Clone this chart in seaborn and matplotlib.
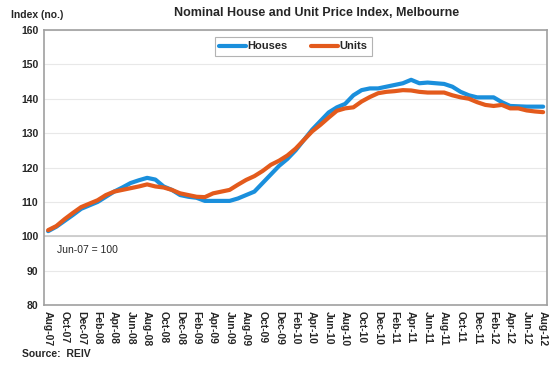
import pandas as pd
import numpy as np
import seaborn as sns
import matplotlib.pyplot as plt

# Monthly index values, Aug-07 to Aug-12 (Jun-07 = 100)
months = pd.date_range('2007-08-01', '2012-08-01', freq='MS').strftime('%b-%y').tolist()

houses = [101.5, 102.8, 104.5, 106.2, 108.0, 109.0, 110.0, 111.5, 113.0, 114.2,
          115.5, 116.3, 117.0, 116.5, 114.5, 113.5, 112.0, 111.5, 111.2, 110.3,
          110.3, 110.3, 110.3, 111.0, 112.0, 113.0, 115.5, 118.0, 120.5, 122.5,
          125.0, 128.0, 131.0, 133.5, 136.0, 137.5, 138.5, 141.0, 142.5, 143.0,
          143.0, 143.5, 144.0, 144.5, 145.5, 144.5, 144.7, 144.5, 144.3, 143.5,
          142.0, 141.0, 140.4, 140.4, 140.4, 139.0, 137.9, 137.8, 137.7, 137.7,
          137.7]

units = [101.8, 103.0, 105.0, 106.8, 108.5, 109.5, 110.5, 112.0, 113.0, 113.5,
         114.0, 114.5, 115.1, 114.5, 114.2, 113.5, 112.5, 112.0, 111.5, 111.4,
         112.5, 113.0, 113.5, 115.0, 116.4, 117.5, 119.0, 120.8, 122.0, 123.5,
         125.5, 128.0, 130.5, 132.4, 134.5, 136.5, 137.2, 137.5, 139.2, 140.5,
         141.6, 142.0, 142.2, 142.5, 142.4, 142.0, 141.8, 141.8, 141.8, 141.0,
         140.4, 140.0, 139.0, 138.2, 137.9, 138.2, 137.2, 137.2, 136.6, 136.3,
         136.1]

series_names = ['Houses', 'Units']
colors = ['#1a8fdc', '#e35a1c']

y_ticks = [80, 90, 100, 110, 120, 130, 140, 150, 160]

# Long format for seaborn
df = pd.DataFrame({'month': months, 'Houses': houses, 'Units': units})
df['pos'] = np.arange(len(df))
df_long = pd.melt(df, id_vars=['month', 'pos'], value_vars=series_names,
                  var_name='series', value_name='index')

sns.set_style('white')
plt.rcParams['font.family'] = ['Liberation Sans', 'DejaVu Sans']

fig = plt.figure(figsize=(5.5, 3.65), dpi=100)
ax = fig.add_axes([0.08, 0.164, 0.915, 0.754])

# light gridlines
for v in y_ticks:
    ax.axhline(v, color='#e8e8e8', lw=0.8, zorder=0)
ax.axhline(100, color='#c8c8c8', lw=1.2, zorder=1)

sns.lineplot(data=df_long, x='pos', y='index', hue='series',
             palette=dict(zip(series_names, colors)), linewidth=3,
             ax=ax, legend=False, zorder=3)

ax.set_xlim(-0.5, len(months) - 0.5)
ax.set_ylim(80, 160)
ax.set_yticks(y_ticks)
ax.set_yticklabels([str(v) for v in y_ticks], fontsize=7.5, fontweight='bold')
ax.set_xticks(df['pos'][::2])
ax.set_xticklabels(df['month'][::2], rotation=-90, fontsize=7.5,
                   fontweight='bold', va='top', ha='center')
ax.tick_params(axis='both', length=0, pad=4)
ax.set_xlabel('')
ax.set_ylabel('')

for s in ax.spines.values():
    s.set_color('#a0a0a0')
    s.set_linewidth(1.2)

# Legend
handles = [plt.Line2D([], [], color=c, lw=3) for c in colors]
leg = ax.legend(handles, series_names, loc='center', bbox_to_anchor=(0.495, 0.94),
                ncol=2, frameon=True, fancybox=False, handlelength=2.4,
                handletextpad=0.1, columnspacing=2.2, borderpad=0.4,
                prop={'size': 8, 'weight': 'bold'})
leg.get_frame().set_edgecolor('#a0a0a0')
leg.get_frame().set_linewidth(0.8)

ax.text(1.1, 96, 'Jun-07 = 100', fontsize=7.5, va='center', ha='left')

fig.text(0.575, 0.965, 'Nominal House and Unit Price Index, Melbourne',
         ha='center', va='center', fontsize=9, fontweight='bold')
fig.text(0.02, 0.96, 'Index (no.)', ha='left', va='center', fontsize=7.5,
         fontweight='bold')
fig.text(0.04, 0.03, 'Source:  REIV', ha='left', va='center', fontsize=7.5,
         fontweight='bold')

fig.savefig('out.png', dpi=100)
